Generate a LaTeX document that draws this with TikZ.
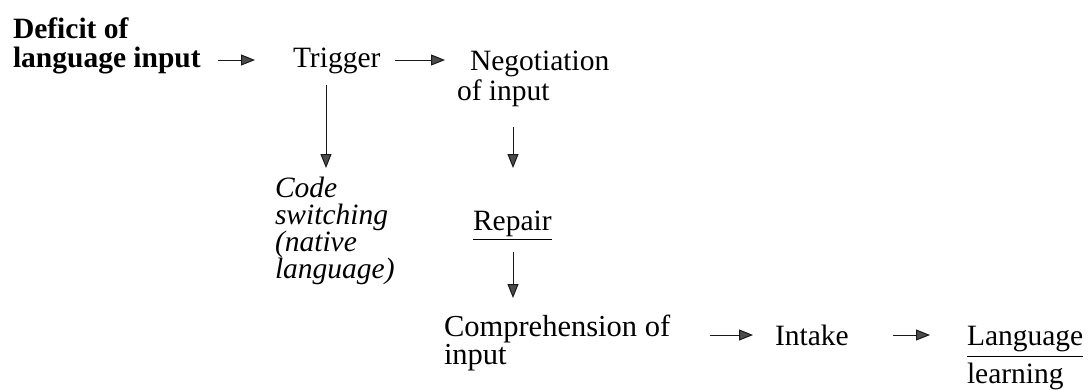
\documentclass[tikz,border=0pt]{standalone}
\usepackage{fontspec}
\setmainfont{Liberation Serif}
\usetikzlibrary{arrows.meta}
\newcommand\ulx[2]{\setbox0\hbox{#2}\rlap{\rule[-#1]{\wd0}{1.1pt}}\box0}
\tikzset{
  lbl/.style={inner sep=0pt, outer sep=0pt, anchor=base west, font=\fontsize{29.5}{29.5}\selectfont},
  arr/.style={line width=1pt, black!90, -{Triangle[length=14pt,width=11pt,fill=black!70]}}
}
\begin{document}
\begin{tikzpicture}[x=1pt,y=-1pt]
\useasboundingbox (0,0) rectangle (1090,389);
\node[lbl] (def) at (13,38) {\bfseries\vtop{\baselineskip=29pt\hbox{Deficit of}\hbox{language input}}};
\node[lbl] (trig) at (293,67) {Trigger};
\node[lbl] (neg) at (457,70) {\vtop{\baselineskip=30pt\hbox{\hspace{13pt}Negotiation}\hbox{of input}}};
\node[lbl] (code) at (275,197) {\itshape\vtop{\baselineskip=27pt\hbox{Code}\hbox{switching}\hbox{(native}\hbox{language)}}};
\node[lbl] (rep) at (473,230) {\ulx{10pt}{Repair}};
\node[lbl, font=\fontsize{30.5}{30.5}\selectfont] (comp) at (444,336) {\vtop{\baselineskip=28pt\hbox{Comprehension of}\hbox{input}}};
\node[lbl] (intake) at (775,345) {Intake};
\node[lbl] (lang) at (967,345) {\vtop{\baselineskip=38pt\hbox{\ulx{12pt}{Language}}\hbox{learning}}};
\draw[arr] ([shift={(17,22)}]def.base east) -- ([shift={(-38,-7)}]trig.base west);
\draw[arr] ([shift={(15,-7)}]trig.base east) -- ([shift={(-12,-10)}]neg.base west);
\draw[arr] ([shift={(33,18)}]trig.base west) -- ([shift={(51,-29)}]code.base west);
\draw[arr] ([shift={(56,57)}]neg.base west) -- ([shift={(40,-62)}]rep.base west);
\draw[arr] ([shift={(40,22)}]rep.base west) -- ([shift={(69,-38)}]comp.base west);
\draw[arr] ([shift={(266,-1)}]comp.base west) -- ([shift={(-22,-10)}]intake.base west);
\draw[arr] ([shift={(118,-10)}]intake.base west) -- ([shift={(-37,-10)}]lang.base west);
\end{tikzpicture}
\end{document}
